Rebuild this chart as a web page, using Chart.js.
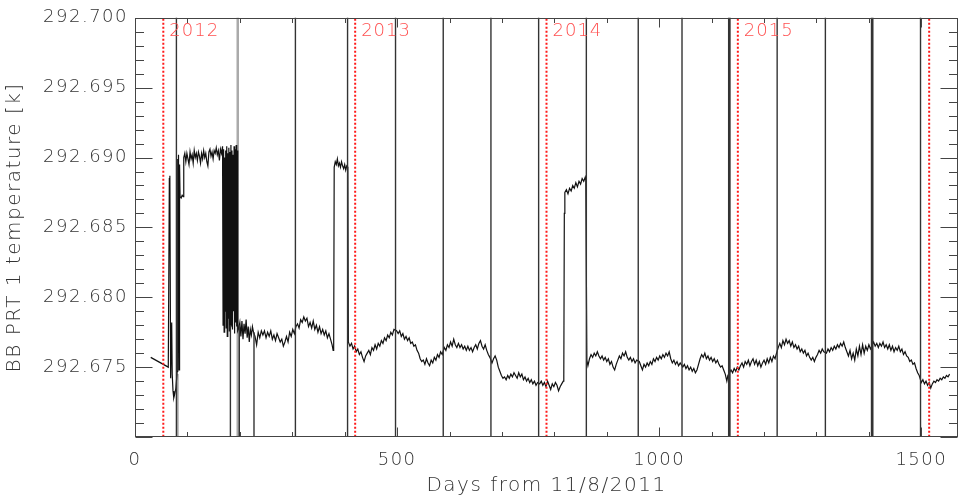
<!DOCTYPE html>
<html><head><meta charset="utf-8">
<script src="https://cdn.jsdelivr.net/npm/chart.js@4/dist/chart.umd.min.js"></script>
<style>html,body{margin:0;padding:0;background:#fff;overflow:hidden}canvas{display:block}</style>
</head><body>
<canvas id="c" width="967" height="499"></canvas>
<script>
// ---- data ----
const days = [
  30, 63.5, 65.5, 66.5, 68, 70, 71, 72.5, 74, 76,
  78, 80.5, 81, 82, 83, 84, 85, 86, 88, 90,
  92, 93, 95, 97, 99, 101, 103, 105, 107, 109,
  111, 113, 115, 117, 119, 121, 123, 125, 127, 129,
  131, 133, 135, 137, 139, 141, 143, 145, 147, 149,
  151, 153, 155, 157, 159, 161, 163, 165, 167, 168,
  169, 170, 171, 172, 173, 174, 175, 176, 177, 178,
  179, 180, 181, 182, 183, 184, 185, 186, 187, 188,
  189, 190, 191, 192, 193, 194, 195, 196, 198, 200,
  202, 204, 206, 208, 210, 212, 214, 216, 218, 220,
  222, 224, 226, 229, 232, 235, 238, 241, 244, 247,
  250, 253, 256, 259, 262, 265, 268, 271, 274, 277,
  280, 283, 286, 289, 292, 295, 298, 301, 304, 307,
  310, 313, 316, 319, 322, 325, 328, 331, 334, 337,
  340, 343, 346, 349, 352, 355, 358, 361, 364, 367,
  370, 373, 376, 378, 379, 380, 382, 384, 386, 388,
  390, 392, 394, 396, 398, 400, 402, 404, 406, 407,
  410, 413, 416, 419, 422, 425, 428, 431, 434, 437,
  440, 443, 446, 449, 452, 455, 458, 461, 464, 467,
  470, 473, 476, 479, 482, 485, 488, 491, 494, 499,
  502, 505, 508, 511, 514, 517, 520, 523, 526, 529,
  532, 535, 538, 541, 544, 547, 550, 553, 556, 559,
  562, 565, 568, 571, 574, 577, 580, 583, 586, 590,
  593, 596, 599, 602, 605, 608, 611, 614, 617, 620,
  623, 626, 629, 632, 635, 638, 641, 644, 647, 650,
  653, 656, 659, 662, 665, 668, 671, 674, 677, 681,
  684, 687, 690, 693, 696, 699, 702, 705, 708, 711,
  714, 717, 720, 723, 726, 729, 732, 735, 738, 741,
  744, 747, 750, 753, 756, 759, 762, 765, 768, 772,
  775, 778, 781, 784, 787, 790, 793, 796, 799, 802,
  805, 808, 811, 814, 817, 818, 819, 820, 823, 826,
  829, 832, 835, 838, 841, 844, 847, 850, 853, 856,
  859, 860, 862, 864, 867, 870, 873, 876, 879, 882,
  885, 888, 891, 894, 897, 900, 903, 906, 909, 912,
  915, 918, 921, 924, 927, 930, 933, 936, 939, 942,
  945, 948, 951, 954, 957, 962, 965, 968, 971, 974,
  977, 980, 983, 986, 989, 992, 995, 998, 1001, 1004,
  1007, 1010, 1013, 1016, 1019, 1022, 1025, 1028, 1031, 1034,
  1037, 1040, 1045, 1048, 1051, 1054, 1057, 1060, 1063, 1066,
  1069, 1072, 1075, 1078, 1081, 1084, 1087, 1090, 1093, 1096,
  1099, 1102, 1105, 1108, 1111, 1114, 1117, 1120, 1123, 1126,
  1129, 1131, 1137, 1140, 1143, 1146, 1149, 1152, 1155, 1158,
  1161, 1164, 1167, 1170, 1173, 1176, 1179, 1182, 1185, 1188,
  1191, 1194, 1197, 1200, 1203, 1206, 1209, 1212, 1215, 1218,
  1221, 1223, 1227, 1230, 1233, 1236, 1239, 1242, 1245, 1248,
  1251, 1254, 1257, 1260, 1263, 1266, 1269, 1272, 1275, 1278,
  1281, 1284, 1287, 1290, 1293, 1296, 1299, 1302, 1305, 1308,
  1311, 1314, 1319, 1322, 1325, 1328, 1331, 1334, 1337, 1340,
  1343, 1346, 1349, 1352, 1355, 1358, 1361, 1364, 1367, 1370,
  1373, 1376, 1379, 1382, 1385, 1388, 1391, 1394, 1397, 1400,
  1403, 1409, 1412, 1415, 1418, 1421, 1424, 1427, 1430, 1433,
  1436, 1439, 1442, 1445, 1448, 1451, 1454, 1457, 1460, 1463,
  1466, 1469, 1472, 1475, 1478, 1481, 1484, 1487, 1490, 1493,
  1496, 1500, 1503, 1506, 1509, 1512, 1515, 1518, 1521, 1524,
  1527, 1530, 1533, 1536, 1539, 1542, 1545, 1548, 1551, 1554
];
const temps = [
  292.6757, 292.6750, 292.6885, 292.6887, 292.6742, 292.6782, 292.6745, 292.6733, 292.6728, 292.6731,
  292.6735, 292.6747, 292.6899, 292.6750, 292.6902, 292.6748, 292.6895, 292.6872, 292.6871, 292.6873,
  292.6872, 292.6900, 292.6903, 292.6897, 292.6903, 292.6899, 292.6895, 292.6904, 292.6899, 292.6902,
  292.6896, 292.6905, 292.6900, 292.6903, 292.6898, 292.6904, 292.6901, 292.6896, 292.6903, 292.6899,
  292.6905, 292.6900, 292.6903, 292.6897, 292.6894, 292.6904, 292.6906, 292.6901, 292.6904, 292.6899,
  292.6905, 292.6903, 292.6907, 292.6902, 292.6905, 292.6898, 292.6906, 292.6903, 292.6908, 292.6780,
  292.6906, 292.6775, 292.6900, 292.6790, 292.6905, 292.6778, 292.6908, 292.6772, 292.6903, 292.6785,
  292.6907, 292.6776, 292.6904, 292.6779, 292.6909, 292.6780, 292.6905, 292.6777, 292.6902, 292.6790,
  292.6908, 292.6774, 292.6906, 292.6782, 292.6909, 292.6779, 292.6905, 292.6776, 292.6778, 292.6782,
  292.6772, 292.6783, 292.6770, 292.6781, 292.6774, 292.6784, 292.6771, 292.6779, 292.6768, 292.6777,
  292.6773, 292.6779, 292.6775, 292.6772, 292.6766, 292.6775, 292.6771, 292.6776, 292.6773, 292.6776,
  292.6771, 292.6775, 292.6772, 292.6776, 292.6770, 292.6773, 292.6769, 292.6774, 292.6771, 292.6768,
  292.6770, 292.6765, 292.6768, 292.6772, 292.6768, 292.6775, 292.6772, 292.6777, 292.6774, 292.6779,
  292.6781, 292.6778, 292.6784, 292.6782, 292.6786, 292.6783, 292.6785, 292.6779, 292.6782, 292.6778,
  292.6783, 292.6777, 292.6780, 292.6775, 292.6779, 292.6774, 292.6777, 292.6773, 292.6776, 292.6771,
  292.6774, 292.6770, 292.6766, 292.6762, 292.6763, 292.6893, 292.6897, 292.6895, 292.6899, 292.6894,
  292.6896, 292.6893, 292.6897, 292.6894, 292.6892, 292.6895, 292.6891, 292.6894, 292.6893, 292.6768,
  292.6765, 292.6767, 292.6763, 292.6765, 292.6761, 292.6763, 292.6759, 292.6761, 292.6757, 292.6754,
  292.6758, 292.6760, 292.6762, 292.6759, 292.6764, 292.6762, 292.6766, 292.6763, 292.6767, 292.6765,
  292.6769, 292.6767, 292.6771, 292.6769, 292.6773, 292.6771, 292.6775, 292.6773, 292.6777, 292.6776,
  292.6774, 292.6776, 292.6772, 292.6774, 292.6770, 292.6772, 292.6769, 292.6771, 292.6767, 292.6768,
  292.6765, 292.6766, 292.6762, 292.6760, 292.6756, 292.6754, 292.6755, 292.6752, 292.6756, 292.6753,
  292.6751, 292.6755, 292.6753, 292.6757, 292.6755, 292.6759, 292.6757, 292.6761, 292.6759, 292.6764,
  292.6762, 292.6766, 292.6764, 292.6768, 292.6765, 292.6770, 292.6766, 292.6764, 292.6767, 292.6764,
  292.6766, 292.6763, 292.6765, 292.6762, 292.6765, 292.6762, 292.6764, 292.6761, 292.6764, 292.6766,
  292.6763, 292.6767, 292.6769, 292.6765, 292.6763, 292.6766, 292.6762, 292.6759, 292.6757, 292.6753,
  292.6756, 292.6758, 292.6755, 292.6750, 292.6747, 292.6744, 292.6742, 292.6743, 292.6741, 292.6744,
  292.6742, 292.6745, 292.6743, 292.6746, 292.6744, 292.6742, 292.6746, 292.6743, 292.6745, 292.6741,
  292.6743, 292.6740, 292.6742, 292.6739, 292.6741, 292.6738, 292.6740, 292.6737, 292.6739, 292.6738,
  292.6740, 292.6737, 292.6739, 292.6736, 292.6740, 292.6737, 292.6734, 292.6738, 292.6736, 292.6739,
  292.6737, 292.6733, 292.6736, 292.6738, 292.6740, 292.6742, 292.6860, 292.6875, 292.6877, 292.6874,
  292.6878, 292.6876, 292.6880, 292.6878, 292.6882, 292.6879, 292.6883, 292.6881, 292.6885, 292.6883,
  292.6886, 292.6884, 292.6755, 292.6751, 292.6756, 292.6759, 292.6757, 292.6760, 292.6758, 292.6761,
  292.6758, 292.6756, 292.6758, 292.6755, 292.6757, 292.6754, 292.6756, 292.6752, 292.6754, 292.6750,
  292.6748, 292.6752, 292.6755, 292.6758, 292.6756, 292.6760, 292.6758, 292.6761, 292.6757, 292.6755,
  292.6757, 292.6754, 292.6756, 292.6753, 292.6755, 292.6754, 292.6751, 292.6748, 292.6752, 292.6750,
  292.6753, 292.6751, 292.6754, 292.6752, 292.6756, 292.6754, 292.6757, 292.6755, 292.6758, 292.6756,
  292.6759, 292.6757, 292.6760, 292.6758, 292.6761, 292.6756, 292.6753, 292.6755, 292.6752, 292.6754,
  292.6751, 292.6753, 292.6750, 292.6752, 292.6749, 292.6751, 292.6748, 292.6750, 292.6747, 292.6749,
  292.6746, 292.6748, 292.6752, 292.6756, 292.6759, 292.6757, 292.6760, 292.6756, 292.6758, 292.6755,
  292.6757, 292.6754, 292.6756, 292.6753, 292.6755, 292.6752, 292.6750, 292.6751, 292.6748, 292.6745,
  292.6740, 292.6744, 292.6748, 292.6746, 292.6749, 292.6747, 292.6750, 292.6748, 292.6751, 292.6753,
  292.6750, 292.6754, 292.6752, 292.6755, 292.6751, 292.6754, 292.6756, 292.6752, 292.6755, 292.6751,
  292.6754, 292.6750, 292.6753, 292.6755, 292.6752, 292.6756, 292.6753, 292.6757, 292.6754, 292.6758,
  292.6756, 292.6759, 292.6764, 292.6767, 292.6764, 292.6769, 292.6766, 292.6770, 292.6767, 292.6769,
  292.6765, 292.6768, 292.6764, 292.6766, 292.6763, 292.6765, 292.6761, 292.6763, 292.6760, 292.6762,
  292.6758, 292.6760, 292.6757, 292.6755, 292.6757, 292.6754, 292.6757, 292.6759, 292.6762, 292.6760,
  292.6763, 292.6761, 292.6760, 292.6763, 292.6761, 292.6764, 292.6762, 292.6765, 292.6763, 292.6766,
  292.6764, 292.6767, 292.6765, 292.6768, 292.6764, 292.6761, 292.6758, 292.6762, 292.6756, 292.6760,
  292.6755, 292.6763, 292.6758, 292.6765, 292.6759, 292.6766, 292.6760, 292.6765, 292.6762, 292.6766,
  292.6763, 292.6768, 292.6765, 292.6767, 292.6764, 292.6767, 292.6765, 292.6768, 292.6764, 292.6766,
  292.6763, 292.6766, 292.6762, 292.6765, 292.6761, 292.6764, 292.6762, 292.6765, 292.6761, 292.6763,
  292.6759, 292.6761, 292.6758, 292.6757, 292.6754, 292.6755, 292.6752, 292.6753, 292.6749, 292.6746,
  292.6744, 292.6739, 292.6741, 292.6738, 292.6740, 292.6737, 292.6739, 292.6735, 292.6738, 292.6740,
  292.6739, 292.6741, 292.6740, 292.6742, 292.6741, 292.6743, 292.6742, 292.6744, 292.6743, 292.6745
];
// off-scale excursions (vertical lines), value range each one spans
const spikeDays = [79, 182, 199, 227, 306, 405.5, 497, 588, 679, 770, 861, 960, 1043.5, 1132.5, 1135, 1225, 1317, 1405, 1407.5, 1498.5];
const spikeHigh = [292.71, 292.678, 292.678, 292.6775, 292.71, 292.71, 292.71, 292.71, 292.71, 292.71, 292.71, 292.71, 292.71, 292.71, 292.71, 292.71, 292.71, 292.71, 292.71, 292.71];
const spikeLow  = [292.66, 292.66, 292.66, 292.66, 292.66, 292.66, 292.66, 292.66, 292.66, 292.66, 292.66, 292.66, 292.66, 292.66, 292.66, 292.66, 292.66, 292.66, 292.66, 292.66];
const faintSpikeDays = [81, 196];
const faintSpikeHigh = [292.6745, 292.71];
const faintSpikeLow  = [292.66, 292.66];
// start of each year (days from 11/8/2011)
const yearDays = [54, 420, 785, 1150, 1515];
const yearLabels = ['2012', '2013', '2014', '2015'];
// axes
const xTickValues = [0, 500, 1000, 1500];
const yTickValues = [292.675, 292.680, 292.685, 292.690, 292.695, 292.700];
const xRange = [0, 1570];
const yRange = [292.670, 292.700];
const xTitle = 'Days from 11/8/2011';
const yTitle = 'BB PRT 1 temperature [k]';

// ---- build datasets ----
const tempPoints = days.map((d, i) => ({x: d, y: temps[i]}));
function verticals(ds, lo, hi) {
  const pts = [];
  ds.forEach((d, i) => { pts.push({x: d, y: lo[i]}, {x: d, y: hi[i]}, {x: d, y: null}); });
  return pts;
}
const spikePts = verticals(spikeDays, spikeLow, spikeHigh);
const faintPts = verticals(faintSpikeDays, faintSpikeLow, faintSpikeHigh);
const yearPts = verticals(yearDays, yearDays.map(() => 292.66), yearDays.map(() => 292.71));

const FONT = 'DejaVu Sans';
const TXT = '#333';

const framePlugin = {
  id: 'idlFrame',
  beforeDraw(chart) { chart.ctx.letterSpacing = '1.5px'; },
  afterDraw(chart) {
    const {ctx, chartArea: a, scales: {x, y}} = chart;
    ctx.save();
    ctx.letterSpacing = '0px';
    ctx.strokeStyle = '#444';
    ctx.lineWidth = 1;
    const L = Math.round(a.left) + 0.5, R = Math.round(a.right) - 0.5;
    const T = Math.round(a.top) + 0.5, B = Math.round(a.bottom) - 0.5;
    ctx.strokeRect(L, T, R - L, B - T);
    ctx.beginPath();
    // y ticks (major every 0.005, minor every 0.001), inward on both sides
    for (let k = 0; k <= 30; k++) {
      const v = yRange[0] + k * 0.001;
      const py = Math.round(y.getPixelForValue(v)) + 0.5;
      const len = (k % 5 === 0) ? 17 : 8.5;
      ctx.moveTo(L, py); ctx.lineTo(L + len, py);
      ctx.moveTo(R, py); ctx.lineTo(R - len, py);
    }
    // x ticks (major every 500, minor every 100), inward top and bottom
    for (let d = 0; d <= xRange[1]; d += 100) {
      const px = Math.round(x.getPixelForValue(d)) + 0.5;
      const len = (d % 500 === 0) ? 9 : 4.5;
      ctx.moveTo(px, B); ctx.lineTo(px, B - len);
      ctx.moveTo(px, T); ctx.lineTo(px, T + len);
    }
    ctx.stroke();
    // year labels
    ctx.fillStyle = '#ff5050';
    ctx.letterSpacing = '1px';
    ctx.font = '200 18px "' + FONT + '"';
    ctx.textBaseline = 'middle';
    ctx.textAlign = 'left';
    yearLabels.forEach((t, i) => {
      ctx.fillText(t, x.getPixelForValue(yearDays[i]) + 6, 31);
    });
    ctx.restore();
  }
};

new Chart(document.getElementById('c'), {
  type: 'line',
  data: {
    datasets: [
      {label: 'year start', data: yearPts, borderColor: '#ff1a1a', borderWidth: 2, borderDash: [2, 2], pointRadius: 0, spanGaps: false, order: 0},
      {label: 'excursions', data: spikePts, borderColor: '#333', borderWidth: 1.4, pointRadius: 0, spanGaps: false, order: 1},
      {label: 'excursions faint', data: faintPts, borderColor: '#aaa', borderWidth: 2.5, pointRadius: 0, spanGaps: false, order: 3},
      {label: 'BB PRT 1', data: tempPoints, borderColor: '#111', borderWidth: 1.2, pointRadius: 0, order: 2}
    ]
  },
  options: {
    responsive: false,
    animation: false,
    devicePixelRatio: 1,
    parsing: true,
    layout: {padding: {top: 9, right: 9, left: 0, bottom: 0}},
    plugins: {legend: {display: false}, tooltip: {enabled: false}, title: {display: false}},
    elements: {line: {tension: 0}, point: {radius: 0}},
    scales: {
      x: {
        type: 'linear', min: xRange[0], max: xRange[1],
        afterBuildTicks: s => { s.ticks = xTickValues.map(v => ({value: v})); },
        afterFit: s => { s.height = 62; },
        grid: {display: false, drawTicks: false}, border: {display: false},
        ticks: {color: TXT, font: {family: FONT, size: 18, weight: 200}, padding: 13, maxRotation: 0, autoSkip: false, callback: v => String(v)},
        title: {display: true, text: xTitle, color: TXT, font: {family: FONT, size: 20, weight: 200}, padding: {top: 0, bottom: 1}}
      },
      y: {
        type: 'linear', min: yRange[0], max: yRange[1],
        afterBuildTicks: s => { s.ticks = yTickValues.map(v => ({value: v})); },
        afterFit: s => { s.width = 135; },
        grid: {display: false, drawTicks: false}, border: {display: false},
        ticks: {color: TXT, font: {family: FONT, size: 18, weight: 200}, padding: 7, autoSkip: false, callback: v => Number(v).toFixed(3)},
        title: {display: true, text: yTitle, color: TXT, font: {family: FONT, size: 20, weight: 200}, padding: {top: 3, bottom: 0}}
      }
    }
  },
  plugins: [framePlugin]
});
</script>
</body></html>
